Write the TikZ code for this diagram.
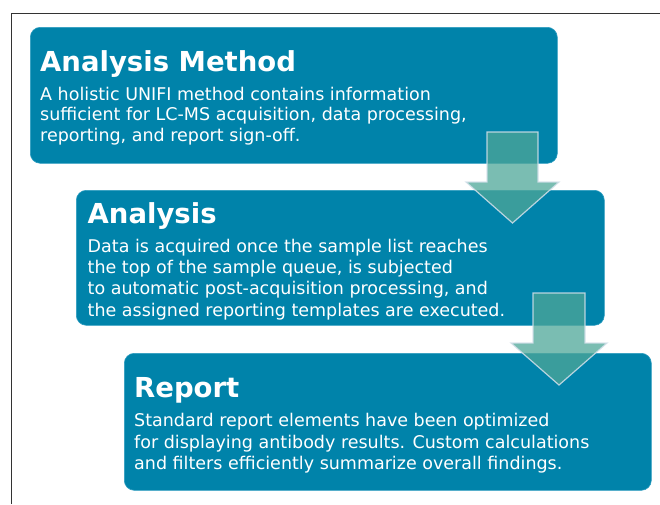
\documentclass[tikz,border=0pt]{standalone}
\usepackage{fontspec}
\setmainfont{DejaVu Sans}
\definecolor{boxblue}{HTML}{0083AA}
\definecolor{boxedge}{HTML}{2C9CC0}
\definecolor{arrowteal}{HTML}{4EA798}
\definecolor{arrowedge}{HTML}{D4E0EA}
\definecolor{framegray}{HTML}{333333}
\begin{document}
\begin{tikzpicture}[x=1pt,y=-1pt,
  box/.style={fill=boxblue, draw=boxedge, line width=0.6pt, rounded corners=10pt,
    anchor=north west, inner sep=0pt},
  ttl/.style={anchor=base west, inner sep=0pt, text=white,
    font=\fontsize{27.5}{33}\selectfont\bfseries},
  body/.style={anchor=base west, inner sep=0pt, text=white, align=left},
  blockarrow/.style={fill=arrowteal, fill opacity=0.75, draw=arrowedge,
    draw opacity=0.85, line width=1.2pt, line join=miter}]
\useasboundingbox (0,0) rectangle (660,504);
\coordinate (fb) at (11.5,504);
\coordinate (fc) at (11.5,13);
\coordinate (fr) at (660,13);
\draw[line width=1pt, framegray] (fb) -- (fc) -- (fr);

\node[box, minimum width=527pt, minimum height=136pt] (b1) at (30,27) {};
\node[box, minimum width=528pt, minimum height=135pt] (b2) at (76,190) {};
\node[box, minimum width=527pt, minimum height=137pt] (b3) at (124,353) {};

% body nodes: base anchor = baseline of the last line
\node[ttl] (t1) at (40,71.5) {Analysis Method};
\node[body, font=\fontsize{17.5}{20.5}\selectfont] (d1) at (40,141)
  {A holistic UNIFI method contains information\\
   sufficient for LC-MS acquisition, data processing,\\
   reporting, and report sign-off.};

\node[ttl] (t2) at (87.5,223) {Analysis};
\node[body, font=\fontsize{17.5}{21.3}\selectfont] (d2) at (87.5,316)
  {Data is acquired once the sample list reaches\\
   the top of the sample queue, is subjected\\
   to automatic post-acquisition processing, and\\
   the assigned reporting templates are executed.};

\node[ttl] (t3) at (134,397) {Report};
\node[body, font=\fontsize{17.5}{21.3}\selectfont] (d3) at (134,469.3)
  {Standard report elements have been optimized\\
   for displaying antibody results. Custom calculations\\
   and filters efficiently summarize overall findings.};

\draw[blockarrow] (487,132) -- (538,132) -- (538,182) -- (559,182) -- (512.5,223)
  -- (466,182) -- (487,182) -- cycle;
\draw[blockarrow] (533,293) -- (585,293) -- (585,343) -- (607,343) -- (559,385)
  -- (511,343) -- (533,343) -- cycle;
\end{tikzpicture}
\end{document}
